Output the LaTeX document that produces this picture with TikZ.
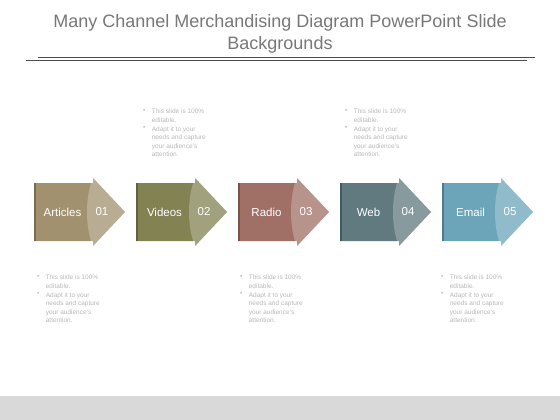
\documentclass[tikz,border=0pt]{standalone}
\usepackage{fontspec}
\setmainfont{Liberation Sans}
\usetikzlibrary{positioning}
\definecolor{artcol}{RGB}{161,145,110}
\definecolor{vidcol}{RGB}{130,130,82}
\definecolor{radcol}{RGB}{160,112,102}
\definecolor{webcol}{RGB}{96,122,128}
\definecolor{mailcol}{RGB}{108,165,186}
\definecolor{titlecol}{RGB}{120,120,120}
\definecolor{notecol}{RGB}{185,185,185}
\tikzstyle{label}=[text=white, font=\fontsize{11.5}{13}\selectfont, inner sep=0pt]
\tikzstyle{bullet}=[text=notecol, font=\fontsize{6.5}{8.6}\selectfont, inner sep=0pt, anchor=north west]
\tikzstyle{notetext}=[text=notecol, font=\fontsize{6.5}{8.6}\selectfont, inner sep=0pt, anchor=north west, align=left]
% arrow: name, left x, colour, word, number
\newcommand{\chanarrow}[5]{
\fill[#3] (#2,183) -- (#2+59,183) -- (#2+59,178) -- (#2+91,212) -- (#2+59,246) -- (#2+59,241) -- (#2,241) -- cycle;
\fill[white, opacity=.25] (#2+59,178) -- (#2+91,212) -- (#2+59,246) .. controls (#2+51,228) and (#2+51,196) .. (#2+59,178);
\fill[black, opacity=.25] (#2,183) rectangle (#2+2,241);
\node[label] (#1) at (#2+28.5,212) {#4};
\node[label] (#1n) at (#2+68,212) {#5};
}
% note: name, bullet x, top y
\newcommand{\chnote}[3]{
\node[bullet] (#1b1) at (#2,#3) {\textbullet};
\node[notetext, right=6pt of #1b1.north east, anchor=north west] (#1t1) {This slide is 100\%\\editable.};
\node[bullet] (#1b2) at (#2,#3+17.2) {\textbullet};
\node[notetext, right=6pt of #1b2.north east, anchor=north west] (#1t2) {Adapt it to your\\needs and capture\\your audience's\\attention.};
}

\begin{document}
\begin{tikzpicture}[x=1pt, y=-1pt]
\useasboundingbox (0,0) rectangle (560,420);
\fill[white] (0,0) rectangle (560,420);
\fill[black!15] (0,396) rectangle (560,420);
% title
\node[text=titlecol, font=\fontsize{18}{22}\selectfont, align=center] (title) at (280,34) {Many Channel Merchandising Diagram PowerPoint Slide\\Backgrounds};
\draw[black!70, line width=.8pt] (38,57) -- (535,57);
\draw[black!70, line width=.8pt] (26,60.5) -- (527,60.5);
% arrows
\chanarrow{articles}{34}{artcol}{Articles}{01}
\chanarrow{videos}{136}{vidcol}{Videos}{02}
\chanarrow{radio}{238}{radcol}{Radio}{03}
\chanarrow{web}{340}{webcol}{Web}{04}
\chanarrow{email}{442}{mailcol}{Email}{05}
% notes
\chnote{na}{37}{275}
\chnote{nb}{143}{109}
\chnote{nc}{240}{275}
\chnote{nd}{345}{109}
\chnote{ne}{441}{275}
\end{tikzpicture}
\end{document}
